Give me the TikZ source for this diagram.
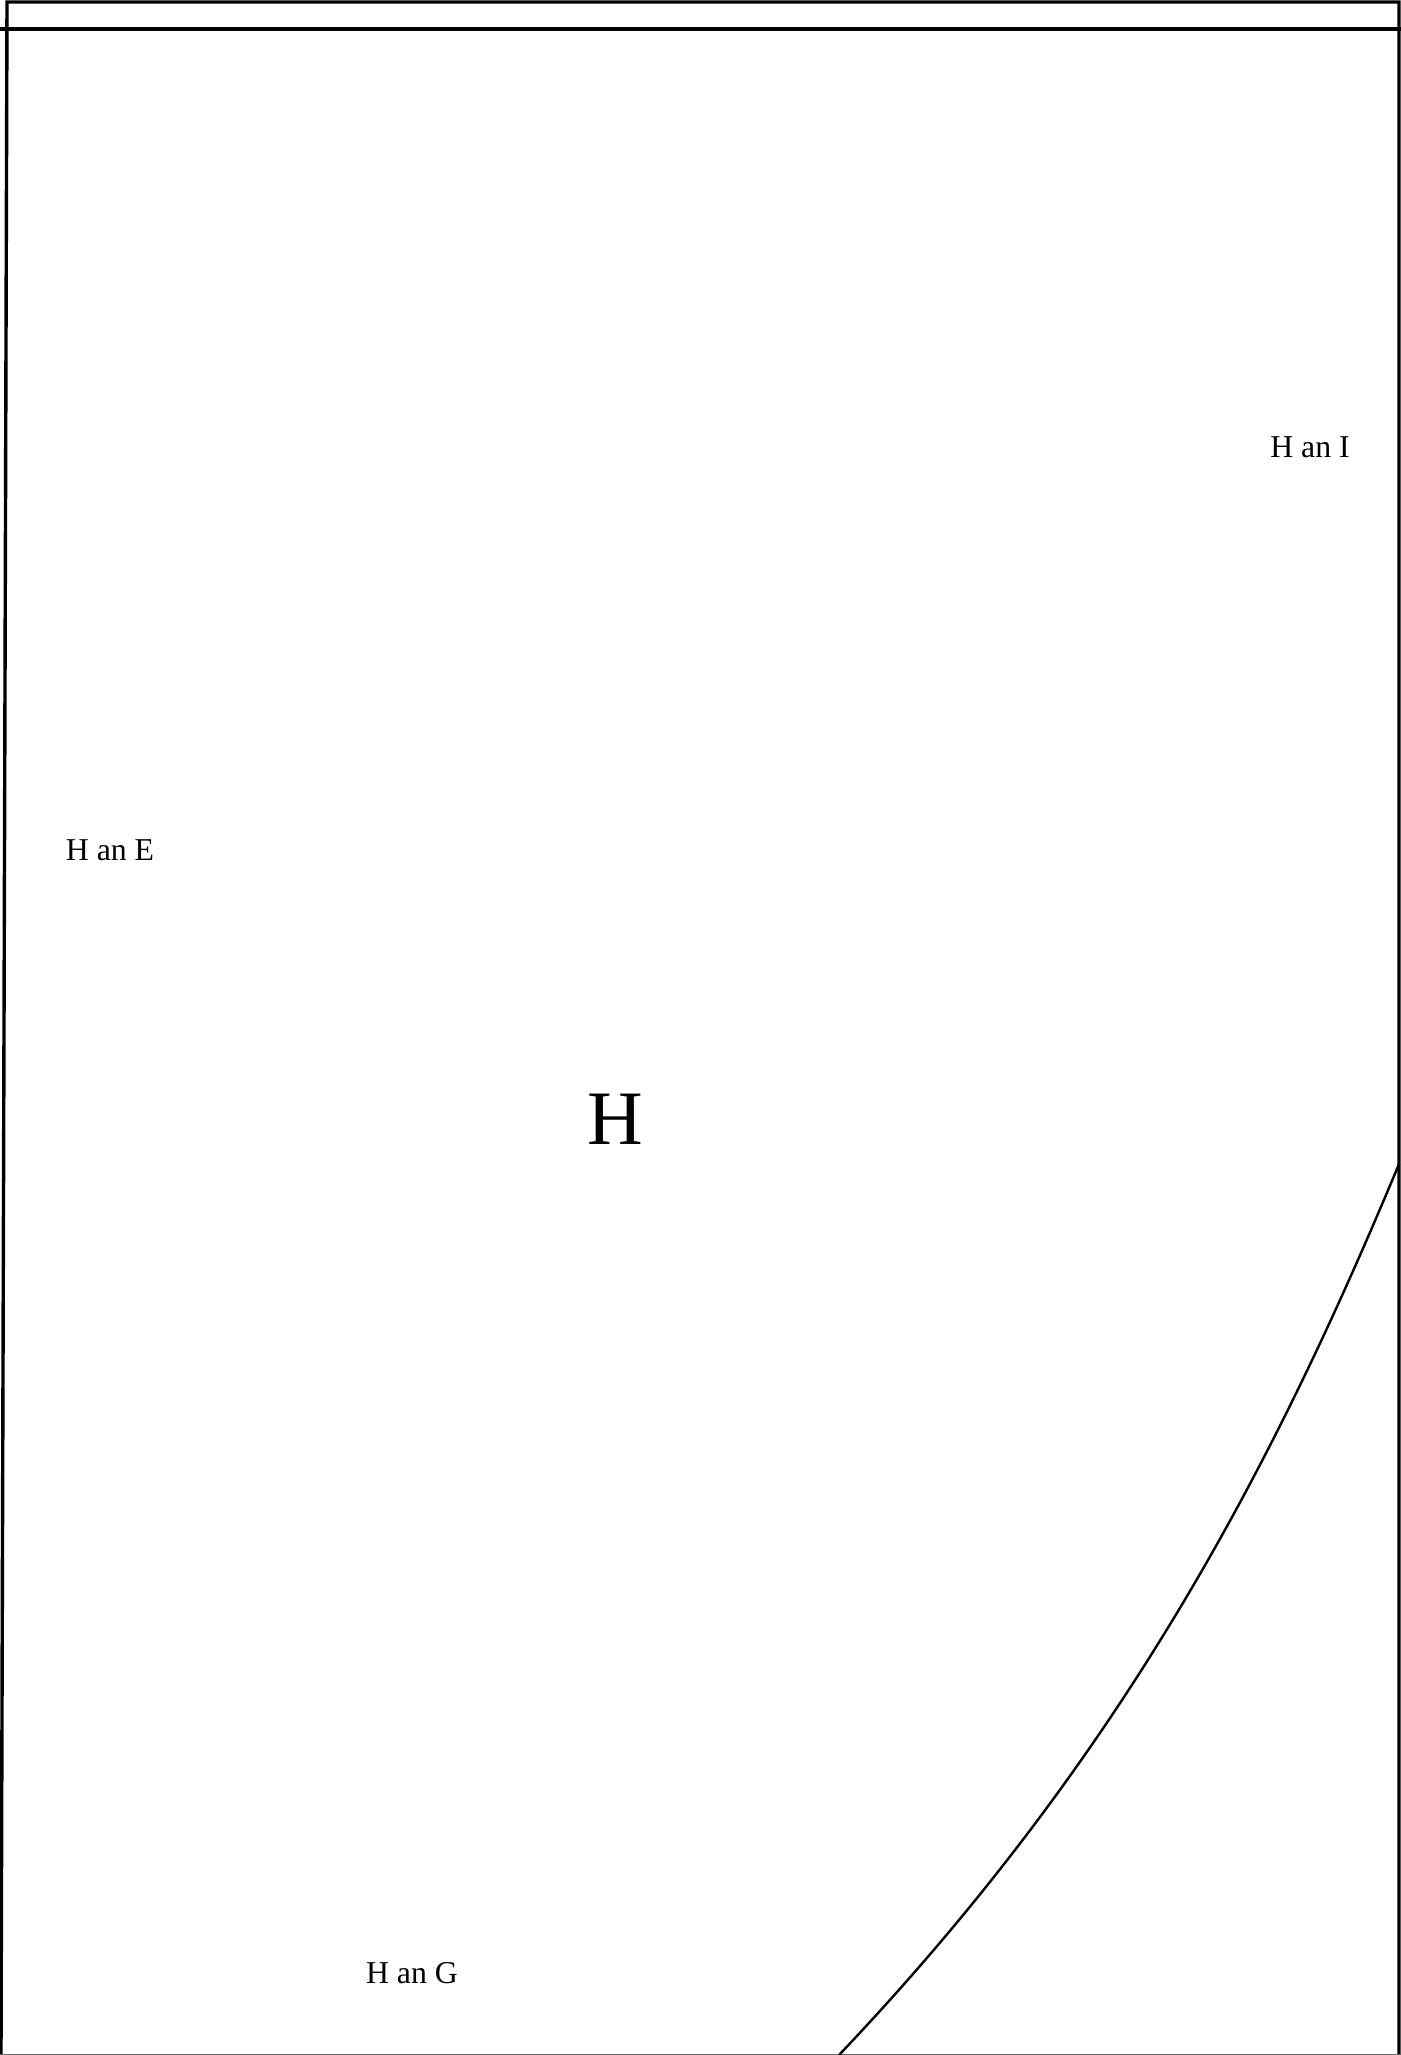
\documentclass[tikz,border=0pt]{standalone}
\usepackage{fontspec}
\setmainfont{Liberation Serif}
\usetikzlibrary{positioning}

\begin{document}
\begin{tikzpicture}[
    x=0.5pt, y=-0.5pt,
    frame/.style={draw=black, line width=1.7pt},
    edge/.style={draw=black, line width=1.2pt},
    areaname/.style={inner sep=0pt, font=\fontsize{15.9}{19}\selectfont},
    mainname/.style={inner sep=0pt, font=\fontsize{38.5}{46}\selectfont},
  ]
  \useasboundingbox (0,0) rectangle (1401,2055);

  % ============ Corner points of the plot ============
  \coordinate (tl) at (7,2);
  \coordinate (tr) at (1399,2);
  \coordinate (br) at (1399,2055);
  \coordinate (bl) at (1,2055);
  \coordinate (cutL) at (0,29);
  \coordinate (cutR) at (1401,29);
  \coordinate (arcTop) at (1399,1164);
  \coordinate (arcBot) at (839,2055);

  % ============ Outline ============
  \draw[frame] (bl) -- (tl) -- (tr) -- (br);
  \draw[frame] (cutL) -- (cutR);
  \draw[draw=black!60, line width=0.6pt] (0,2054.5) -- (1401,2054.5);

  % ============ Curved boundary ============
  \draw[edge] (arcTop) .. controls (1274,1464) and (1124,1755) .. (arcBot);

  % ============ Labels ============
  \node[mainname] (hMain) at (615.5,1119) {H};
  \node[areaname] (hanI) at (1310,447.5) {H an I};
  \node[areaname] (hanE) at (110,850) {H an E};
  \node[areaname] (hanG) at (412,1973) {H an G};

\end{tikzpicture}
\end{document}
